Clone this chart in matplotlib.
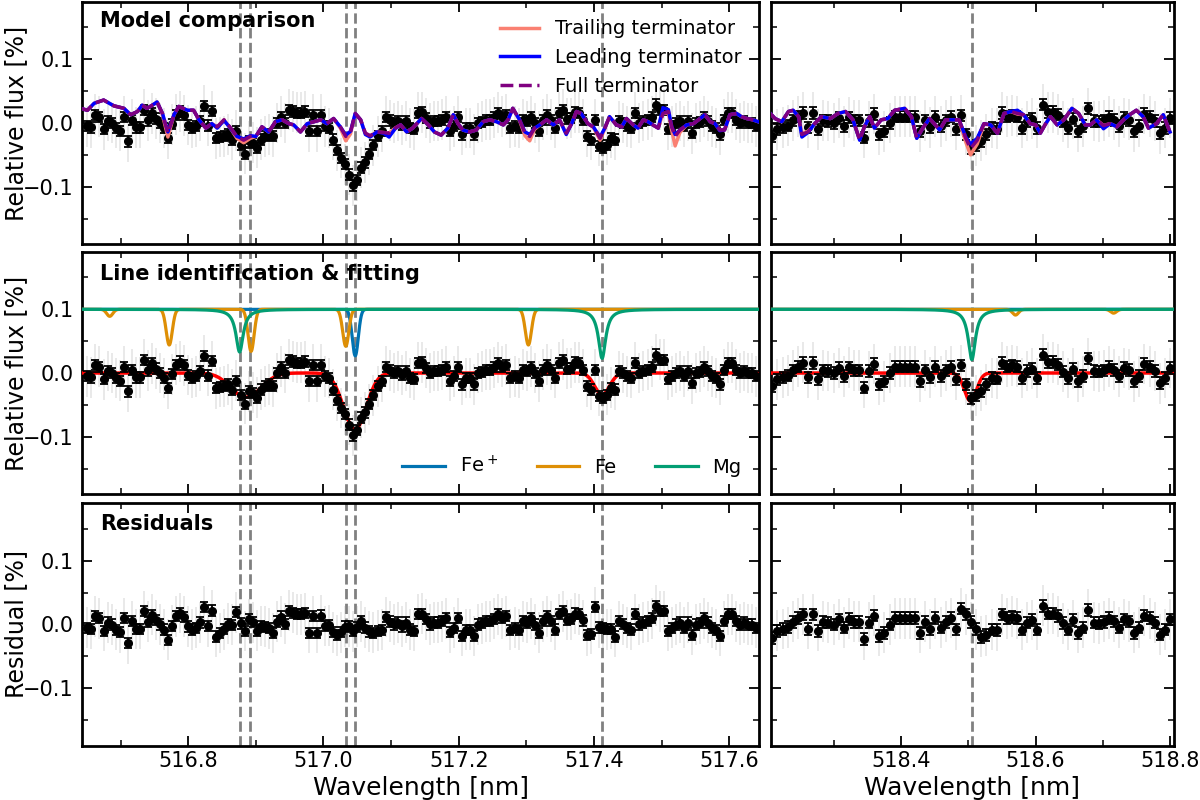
import numpy as np
import matplotlib
matplotlib.use("Agg")
import matplotlib.pyplot as plt
from matplotlib.ticker import MultipleLocator

# ---------------- binned transmission data ----------------
# left window: regular bins from 516.651 to 517.640 nm (167 bins)
wl_left_range = (516.651, 517.640, 167)
flux_left = [
    -0.005, -0.007, 0.013, 0.010, -0.010, 0.003, 0.000, -0.008, -0.012, 0.010,
    -0.029, 0.005, -0.007, -0.007, 0.021, 0.004, 0.015, 0.007, 0.000, -0.008,
    -0.024, -0.002, 0.013, 0.018, 0.012, -0.003, -0.008, -0.005, 0.003, 0.027,
    -0.004, 0.019, -0.024, -0.022, -0.021, -0.018, -0.026, -0.012, -0.034, -0.048,
    -0.029, -0.031, -0.039, -0.026, -0.021, -0.018, -0.021, 0.000, 0.010, 0.000,
    0.021, 0.018, 0.016, 0.016, 0.018, -0.013, 0.013, -0.013, 0.013, -0.005,
    -0.008, -0.026, -0.043, -0.055, -0.065, -0.081, -0.098, -0.090, -0.070, -0.062,
    -0.049, -0.035, -0.021, -0.013, 0.010, 0.004, 0.000, 0.003, -0.003,
    0.003, -0.008, -0.010, 0.016, 0.017, 0.008, 0.000, 0.003, 0.003, 0.005,
    0.010, -0.012, -0.005, 0.010, -0.018, -0.008, -0.008, -0.018, 0.000, 0.002,
    0.005, 0.005, 0.009, 0.016, 0.010, 0.013, -0.008, -0.005, -0.008, 0.005,
    0.003, 0.010, 0.000, -0.013, 0.005, 0.013, 0.005, -0.008, 0.016, 0.021,
    0.007, 0.008, 0.017, 0.016, 0.005, -0.021, -0.026, 0.005, -0.036, -0.039,
    -0.034, -0.023, -0.026, 0.003, 0.000, -0.005, -0.008, 0.016, 0.000, 0.003,
    0.005, 0.010, 0.029, 0.021, 0.021, -0.010, -0.005, 0.000, 0.003, -0.005,
    0.003, -0.016, 0.000, 0.002, 0.010, 0.003, -0.005, -0.008, -0.018, 0.005,
    0.016, 0.016, 0.005, 0.000, 0.003, 0.000, 0.000, -0.005,
]
# right window: regular bins from 518.208 to 518.800 nm (79 bins)
wl_right_range = (518.208, 518.800, 79)
flux_right = [
    -0.021, -0.010, -0.007, -0.004, 0.004, 0.010, 0.016, -0.007, 0.016, -0.010,
    0.004, 0.003, 0.000, 0.008, -0.005, 0.009, 0.004, 0.004, -0.023, 0.003,
    0.014, -0.018, -0.013, 0.000, 0.010, 0.010, 0.010, 0.010, 0.010, -0.013,
    0.004, -0.007, 0.010, -0.005, 0.004, 0.010, -0.010, 0.012, -0.018, -0.040,
    -0.035, -0.028, -0.018, -0.008, -0.009, 0.016, 0.010, 0.012, 0.010, -0.008,
    0.003, 0.007, -0.008, 0.029, 0.017, 0.017, 0.013, 0.002, -0.008, 0.007,
    -0.013, -0.005, 0.023, 0.003, 0.002, 0.004, 0.010, 0.005, -0.005, 0.008,
    0.005, -0.013, -0.005, 0.014, 0.010, 0.003, -0.016, -0.008, 0.008,
]
err_left = 0.008
err_right = 0.009
raw_err = 0.032   # spread of the unbinned (grey) spectrum

# ---------------- model comparison curves ----------------
mod_wl_left = [
    516.641, 516.651, 516.661, 516.675, 516.690, 516.705, 516.715, 516.725, 516.732, 516.739,
    516.747, 516.754, 516.762, 516.770, 516.779, 516.786, 516.799, 516.808, 516.816, 516.826,
    516.835, 516.843, 516.853, 516.863, 516.872, 516.882, 516.892, 516.900, 516.909, 516.919,
    516.929, 516.939, 516.949, 516.956, 516.966, 516.976, 516.986, 516.996, 517.005, 517.015,
    517.025, 517.033, 517.040, 517.047, 517.055, 517.062, 517.069, 517.079, 517.089, 517.097,
    517.106, 517.114,
    517.123, 517.132, 517.145, 517.155, 517.164, 517.174, 517.184, 517.192, 517.199, 517.206,
    517.216, 517.226, 517.236, 517.246, 517.256, 517.266, 517.273, 517.280, 517.290, 517.298,
    517.305, 517.312, 517.320, 517.330, 517.340, 517.349, 517.359, 517.367, 517.374, 517.381,
    517.391, 517.399, 517.409, 517.416, 517.423, 517.433, 517.441, 517.448, 517.458, 517.465,
    517.473, 517.480, 517.487, 517.495, 517.502, 517.510, 517.515, 517.520, 517.527, 517.537,
    517.547, 517.557, 517.564, 517.572, 517.579, 517.586, 517.593, 517.601, 517.611, 517.618,
    517.626, 517.635, 517.643,
]
full_left = [
    0.023, 0.020, 0.031, 0.036, 0.027, 0.023, 0.013, 0.018, 0.028, 0.023,
    0.028, 0.033, 0.015, -0.016, 0.013, 0.026, 0.020, 0.020, 0.005, -0.008,
    -0.001, -0.006, 0.005, -0.008, -0.021, -0.027, -0.021, -0.021, -0.006, -0.014,
    0.002, 0.005, -0.001, -0.003, -0.014, -0.001, 0.002, 0.005, -0.001, 0.007,
    -0.006, -0.021, -0.014, 0.015, 0.005, -0.016, -0.020, -0.014, -0.015, -0.016,
    -0.008, -0.003,
    -0.014, -0.008, 0.007, -0.003, -0.014, -0.019, -0.008, 0.013, -0.001, -0.011,
    -0.014, -0.011, 0.002, 0.005, 0.002, -0.003, 0.005, 0.023, 0.005, -0.016,
    -0.021, -0.008, -0.003, 0.005, -0.003, 0.005, -0.016, -0.001, 0.018, 0.015,
    -0.001, -0.006, -0.024, -0.008, 0.010, -0.003, -0.006, 0.007, -0.003, -0.008,
    0.005, 0.002, -0.003, -0.008, 0.015, 0.018, -0.006, -0.021, -0.011, -0.003,
    -0.001, 0.007, 0.013, 0.002, -0.001, -0.011, -0.011, 0.013, 0.015, 0.010,
    0.007, 0.005, 0.002,
]
lead_left = [
    0.023, 0.020, 0.031, 0.036, 0.027, 0.023, 0.013, 0.018, 0.028, 0.023,
    0.028, 0.033, 0.015, -0.014, 0.013, 0.026, 0.020, 0.020, 0.005, -0.008,
    -0.001, -0.008, 0.004, -0.009, -0.021, -0.025, -0.020, -0.021, -0.006, -0.014,
    0.002, 0.005, -0.001, -0.003, -0.014, -0.001, 0.002, 0.005, -0.001, 0.007,
    -0.006, -0.019, -0.013, 0.015, 0.005, -0.018, -0.022, -0.014, -0.016, -0.022,
    -0.009, -0.003,
    -0.014, -0.008, 0.007, -0.003, -0.014, -0.019, -0.008, 0.013, -0.001, -0.011,
    -0.014, -0.011, 0.002, 0.005, 0.002, -0.003, 0.005, 0.023, 0.005, -0.014,
    -0.018, -0.008, -0.003, 0.005, -0.003, 0.005, -0.018, -0.001, 0.018, 0.015,
    -0.001, -0.006, -0.022, -0.008, 0.010, -0.003, -0.006, 0.007, -0.003, -0.008,
    0.005, 0.002, -0.003, -0.008, 0.024, 0.021, -0.006, -0.018, -0.011, -0.003,
    -0.001, 0.007, 0.013, 0.002, -0.001, -0.012, -0.011, 0.013, 0.015, 0.010,
    0.007, 0.005, 0.002,
]
trail_left = [
    0.023, 0.020, 0.031, 0.036, 0.027, 0.023, 0.013, 0.018, 0.028, 0.023,
    0.028, 0.033, 0.013, -0.022, 0.013, 0.026, 0.020, 0.020, 0.005, -0.008,
    -0.001, -0.006, 0.005, -0.009, -0.024, -0.031, -0.024, -0.021, -0.006, -0.014,
    0.002, 0.005, -0.001, -0.003, -0.014, -0.001, 0.002, 0.005, -0.001, 0.007,
    -0.008, -0.028, -0.017, 0.015, 0.005, -0.016, -0.020, -0.014, -0.015, -0.016,
    -0.008, -0.003,
    -0.014, -0.008, 0.007, -0.003, -0.014, -0.019, -0.008, 0.013, -0.001, -0.011,
    -0.014, -0.011, 0.002, 0.005, 0.002, -0.003, 0.005, 0.023, 0.004, -0.020,
    -0.028, -0.010, -0.003, 0.005, -0.003, 0.005, -0.016, -0.001, 0.018, 0.015,
    -0.001, -0.007, -0.027, -0.009, 0.010, -0.003, -0.006, 0.007, -0.003, -0.008,
    0.005, 0.002, -0.003, -0.008, 0.015, 0.016, -0.012, -0.036, -0.015, -0.003,
    -0.001, 0.007, 0.013, 0.002, -0.001, -0.011, -0.011, 0.013, 0.015, 0.010,
    0.007, 0.005, 0.002,
]
mod_wl_right = [
    518.205, 518.212, 518.222, 518.232, 518.239, 518.247, 518.252, 518.261, 518.271, 518.281,
    518.294, 518.306, 518.317, 518.328, 518.338, 518.345, 518.353, 518.360, 518.370, 518.380,
    518.390, 518.405, 518.415, 518.423, 518.432, 518.442, 518.449, 518.457, 518.466, 518.476,
    518.486, 518.496, 518.503, 518.513, 518.523, 518.533, 518.543, 518.553, 518.563, 518.573,
    518.582, 518.592, 518.600, 518.607, 518.615, 518.622, 518.632, 518.642, 518.654, 518.664,
    518.674, 518.681, 518.691, 518.701, 518.711, 518.721, 518.731, 518.740, 518.750, 518.760,
    518.768, 518.780, 518.790, 518.800,
]
full_right = [
    0.015, 0.007, 0.002, 0.018, 0.020, 0.010, -0.018, -0.014, -0.001, 0.010,
    0.007, 0.015, 0.018, 0.005, -0.027, -0.006, 0.010, -0.008, 0.005, 0.007,
    0.020, 0.023, 0.010, -0.024, -0.008, 0.007, -0.001, -0.011, 0.005, 0.005,
    0.005, -0.024, -0.040, -0.027, -0.001, -0.003, -0.016, 0.015, 0.018, 0.015,
    0.013, -0.001, -0.003, -0.016, -0.001, 0.010, -0.003, 0.005, 0.023, 0.015,
    -0.003, -0.003, 0.005, -0.004, -0.001, -0.006, 0.005, 0.013, 0.020, 0.010,
    -0.008, -0.001, 0.013, -0.014,
]
lead_right = [
    0.015, 0.007, 0.002, 0.018, 0.020, 0.010, -0.022, -0.015, -0.001, 0.010,
    0.007, 0.015, 0.018, 0.005, -0.027, -0.006, 0.010, -0.008, 0.005, 0.007,
    0.020, 0.023, 0.010, -0.024, -0.008, 0.007, -0.001, -0.011, 0.005, 0.005,
    0.005, -0.022, -0.033, -0.024, -0.001, -0.003, -0.016, 0.015, 0.018, 0.020,
    0.013, -0.001, -0.003, -0.016, -0.001, 0.010, -0.003, 0.005, 0.023, 0.015,
    -0.003, -0.003, 0.005, -0.009, -0.001, -0.006, 0.005, 0.013, 0.020, 0.010,
    -0.008, -0.001, 0.013, -0.014,
]
trail_right = [
    0.015, 0.007, 0.002, 0.018, 0.020, 0.010, -0.016, -0.013, -0.001, 0.010,
    0.007, 0.015, 0.018, 0.005, -0.025, -0.006, 0.010, -0.008, 0.005, 0.007,
    0.020, 0.023, 0.010, -0.024, -0.008, 0.007, -0.001, -0.011, 0.005, 0.005,
    0.004, -0.030, -0.050, -0.033, -0.002, -0.003, -0.016, 0.015, 0.018, 0.014,
    0.013, -0.001, -0.003, -0.016, -0.001, 0.010, -0.003, 0.005, 0.023, 0.015,
    -0.003, -0.003, 0.005, -0.004, -0.001, -0.006, 0.005, 0.013, 0.020, 0.010,
    -0.008, -0.001, 0.013, -0.014,
]

# ---------------- line identification ----------------
line_positions = [516.876, 516.892, 517.033, 517.046, 517.412, 518.505]
comp_baseline = 0.1
fep_centers = [517.047]
fep_depths = [0.073]
fe_centers = [516.684, 516.772, 516.893, 517.033, 517.303, 518.570, 518.716]
fe_depths = [0.011, 0.056, 0.066, 0.058, 0.056, 0.009, 0.006]
mg_centers = [516.876, 517.412, 518.505]
mg_depths = [0.067, 0.077, 0.079]
fe_sigma = 0.0045
mg_gamma = 0.0065

# fitted absorption model (Gaussian components)
fit_centers = [516.877, 516.895, 517.038, 517.052, 517.412, 518.503]
fit_depths = [0.022, 0.020, 0.040, 0.058, 0.034, 0.044]
fit_sigmas = [0.020, 0.020, 0.015, 0.015, 0.011, 0.009]

xlims = [(516.643, 517.644), (518.206, 518.806)]
ylim = (-0.19, 0.19)

C_FEP, C_FE, C_MG = "#0173b2", "#de8f05", "#029e73"


def gauss_lines(x, centers, depths, sigmas):
    x = np.asarray(x, float)
    out = np.zeros_like(x)
    for c, d, s in zip(centers, depths, sigmas):
        out -= d * np.exp(-0.5 * ((x - c) / s) ** 2)
    return out


def lorentz_lines(x, centers, depths, gamma):
    x = np.asarray(x, float)
    out = np.zeros_like(x)
    for c, d in zip(centers, depths):
        out -= d * gamma ** 2 / ((x - c) ** 2 + gamma ** 2)
    return out


wl_data = [np.linspace(*wl_left_range), np.linspace(*wl_right_range)]
flux_data = [np.array(flux_left), np.array(flux_right)]
err_data = [err_left, err_right]
mods = [(mod_wl_left, trail_left, lead_left, full_left),
        (mod_wl_right, trail_right, lead_right, full_right)]

fig = plt.figure(figsize=(12, 8), dpi=100)
W, H = 1200.0, 800.0
col_px = [(82, 677), (771, 403)]
row_px = [(2, 242), (252, 242), (503, 243)]


def style(ax, c, r):
    ax.set_xlim(*xlims[c])
    ax.set_ylim(*ylim)
    ax.xaxis.set_major_locator(MultipleLocator(0.2))
    ax.xaxis.set_minor_locator(MultipleLocator(0.1))
    ax.yaxis.set_major_locator(MultipleLocator(0.1))
    ax.yaxis.set_minor_locator(MultipleLocator(0.05))
    ax.tick_params(which="both", direction="in", top=True, right=True,
                   labelsize=15)
    ax.tick_params(which="major", length=7, width=1.3)
    ax.tick_params(which="minor", length=4, width=1.1)
    ax.tick_params(axis="y", which="major", pad=6)
    for sp in ax.spines.values():
        sp.set_linewidth(2.0)
    if c == 1:
        ax.tick_params(labelleft=False)
    if r < 2:
        ax.tick_params(labelbottom=False)


def set_ylab(ax, text):
    ax.set_ylabel(text, fontsize=17)
    ax.yaxis.set_label_coords(-0.080, 0.5)


def draw_data(ax, x, y, e):
    ax.errorbar(x, y, yerr=raw_err, fmt="none", ecolor="0.6", alpha=0.22,
                elinewidth=1.4, zorder=1)
    ax.errorbar(x, y, yerr=e, fmt="o", color="black", ms=5.5, capsize=3,
                elinewidth=1.3, capthick=1.3, zorder=5)


for r, (top, h) in enumerate(row_px):
    for c, (left, w) in enumerate(col_px):
        ax = fig.add_axes([left / W, 1 - (top + h) / H, w / W, h / H])
        style(ax, c, r)
        for lp in line_positions:
            if xlims[c][0] < lp < xlims[c][1]:
                ax.axvline(lp, color="gray", ls="--", lw=2, zorder=0.5)
        x, y, e = wl_data[c], flux_data[c], err_data[c]
        if r == 0:
            draw_data(ax, x, y, e)
            mw, tr, ld, fu = mods[c]
            ax.plot(mw, tr, color="salmon", lw=2.5, zorder=6,
                    solid_joinstyle="round", label="Trailing terminator")
            ax.plot(mw, ld, color="blue", lw=2.5, zorder=7,
                    solid_joinstyle="round", label="Leading terminator")
            ax.plot(mw, fu, color="purple", lw=2.5, ls="--", zorder=8,
                    label="Full terminator")
            if c == 0:
                ax.legend(loc="upper right", frameon=False, fontsize=14)
                ax.text(0.027, 0.92, "Model comparison", transform=ax.transAxes,
                        fontsize=15, fontweight="bold", va="center")
                set_ylab(ax, "Relative flux [%]")
        elif r == 1:
            xx = np.linspace(xlims[c][0], xlims[c][1], 3000)
            h1, = ax.plot(xx, comp_baseline + gauss_lines(xx, fep_centers, fep_depths,
                          [fe_sigma] * len(fep_centers)), color=C_FEP, lw=2.3,
                          label="Fe$^+$", zorder=3)
            h2, = ax.plot(xx, comp_baseline + gauss_lines(xx, fe_centers, fe_depths,
                          [fe_sigma] * len(fe_centers)), color=C_FE, lw=2.3,
                          label="Fe", zorder=3.1)
            h3, = ax.plot(xx, comp_baseline + lorentz_lines(xx, mg_centers, mg_depths,
                          mg_gamma), color=C_MG, lw=2.3, label="Mg", zorder=3.2)
            draw_data(ax, x, y, e)
            ax.plot(xx, gauss_lines(xx, fit_centers, fit_depths, fit_sigmas),
                    color="red", lw=2.5, zorder=4)
            if c == 0:
                ax.legend(handles=[h1, h2, h3], loc="lower right", ncol=3,
                          frameon=False, fontsize=14, columnspacing=2.0,
                          handlelength=2.2, handletextpad=0.75)
                ax.text(0.027, 0.908, "Line identification & fitting",
                        transform=ax.transAxes, fontsize=15, fontweight="bold",
                        va="center")
                set_ylab(ax, "Relative flux [%]")
        else:
            resid = y - gauss_lines(x, fit_centers, fit_depths, fit_sigmas)
            draw_data(ax, x, resid, e)
            ax.set_xlabel("Wavelength [nm]", fontsize=18)
            if c == 0:
                ax.text(0.027, 0.915, "Residuals", transform=ax.transAxes,
                        fontsize=15, fontweight="bold", va="center")
                set_ylab(ax, "Residual [%]")

fig.savefig("out.png", dpi=100)
